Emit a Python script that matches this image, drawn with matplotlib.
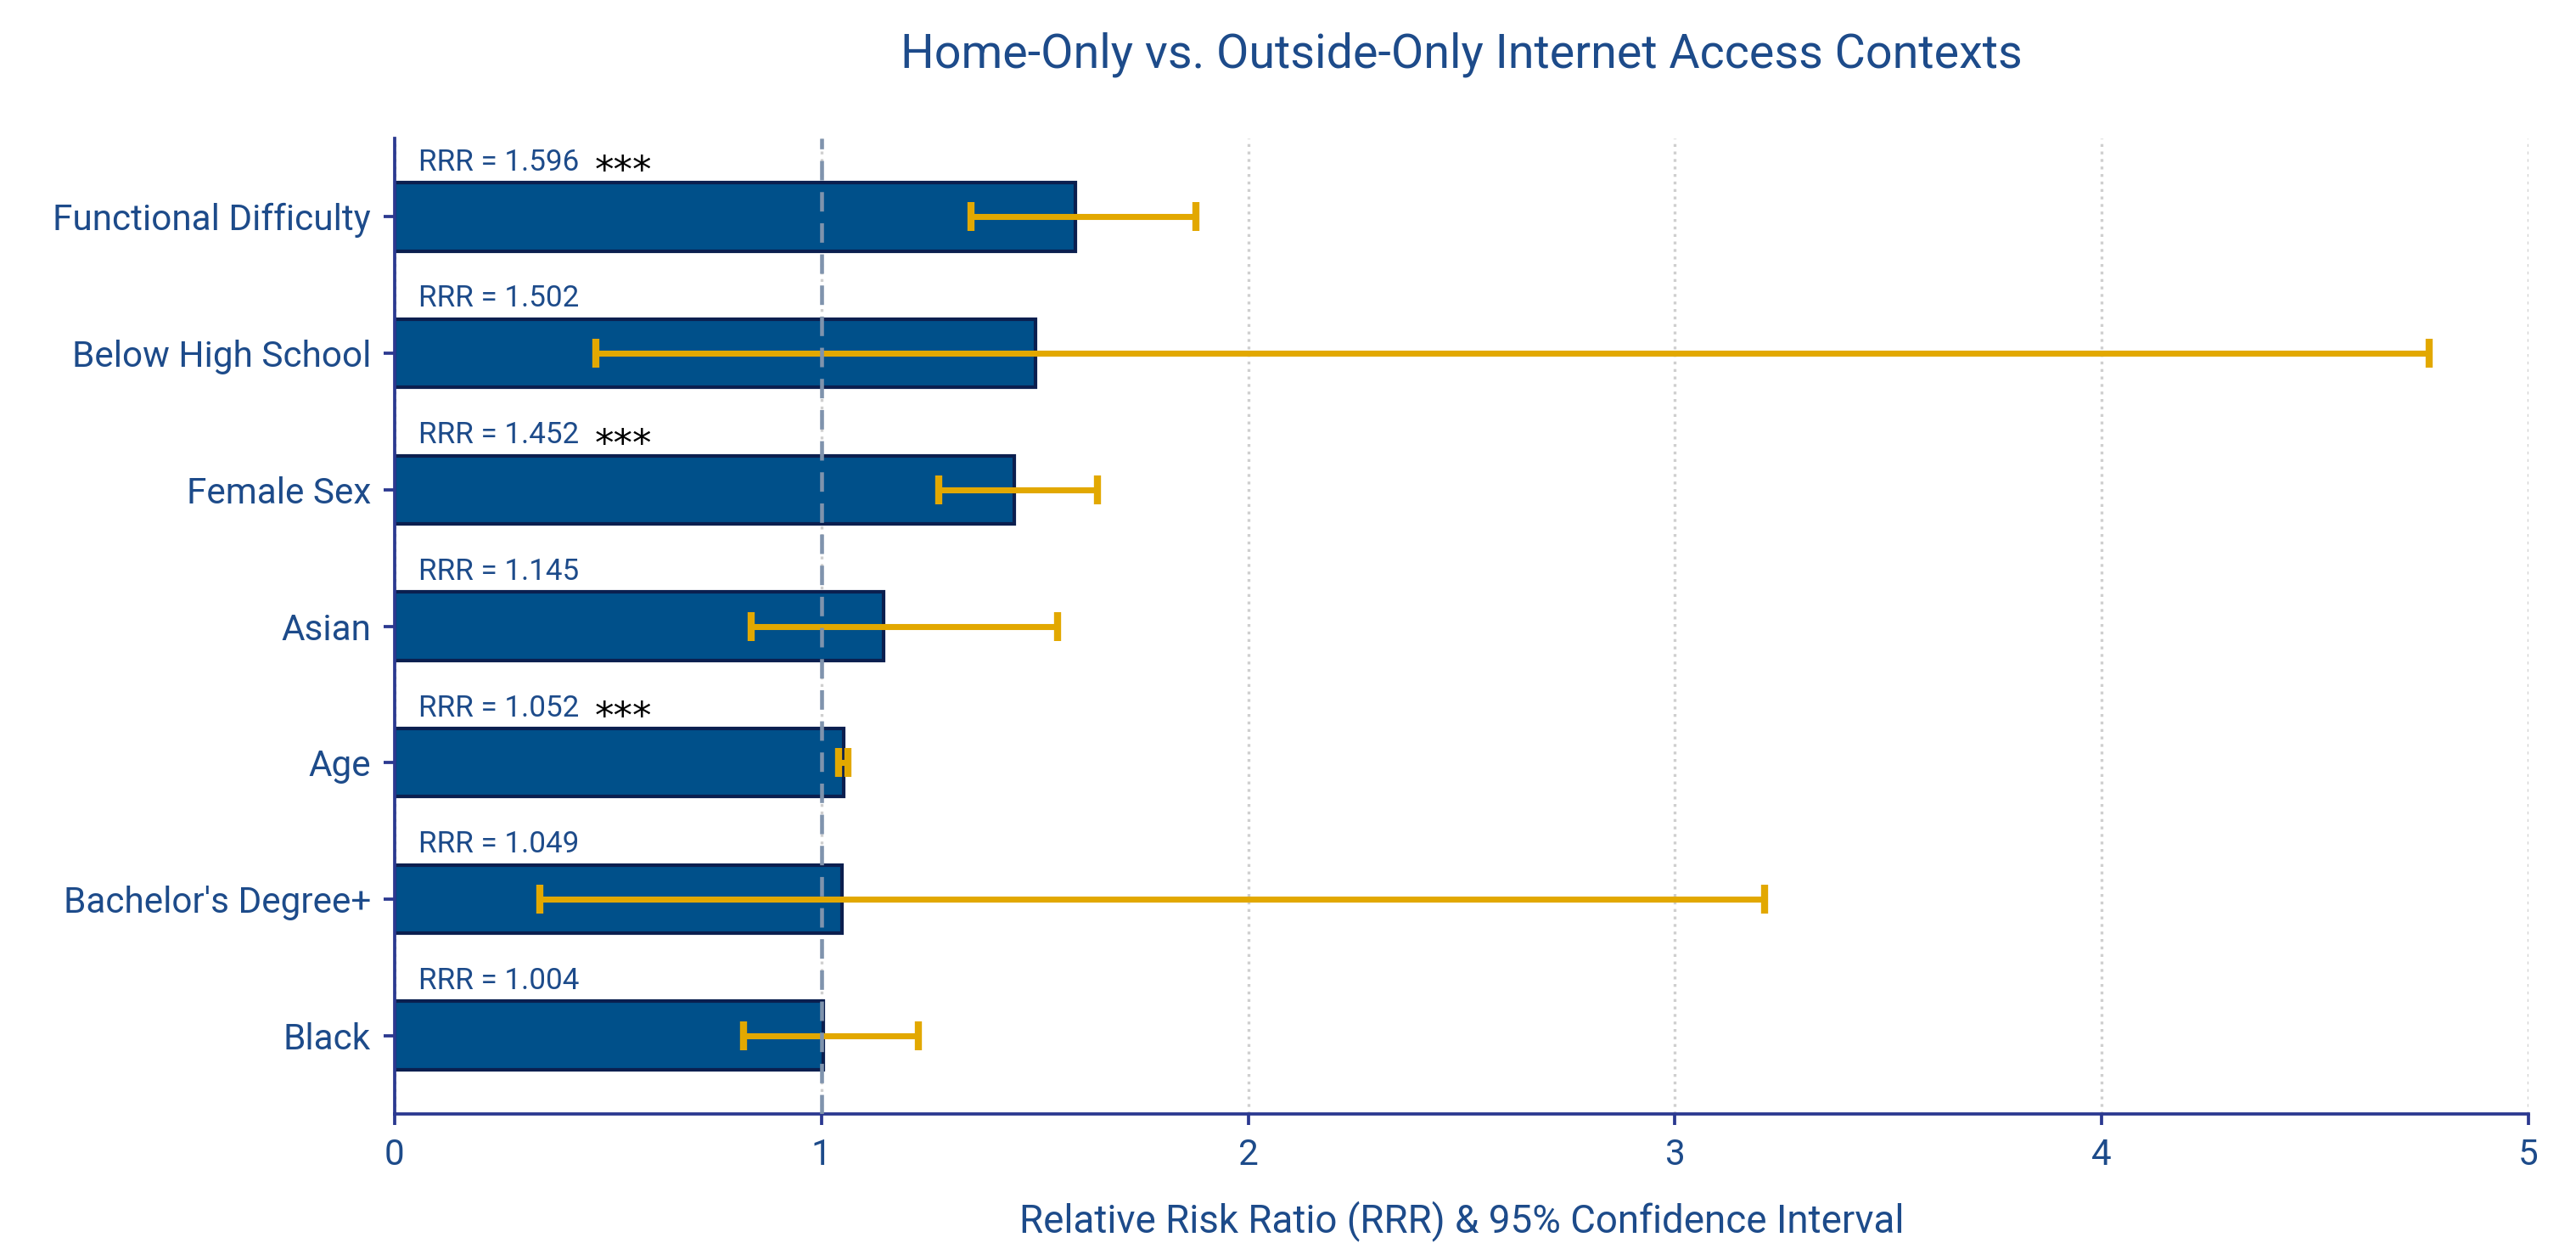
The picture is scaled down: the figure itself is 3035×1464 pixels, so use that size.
import matplotlib
matplotlib.use("Agg")
import matplotlib.pyplot as plt

# ---- data (top to bottom as displayed) ----
categories = ["Functional Difficulty", "Below High School", "Female Sex", "Asian",
              "Age", "Bachelor's Degree+", "Black"]
rrr = [1.596, 1.502, 1.452, 1.145, 1.052, 1.049, 1.004]
ci_low = [1.351, 0.471, 1.274, 0.836, 1.041, 0.340, 0.818]
ci_high = [1.878, 4.767, 1.647, 1.553, 1.062, 3.211, 1.227]
sig = ["***", "", "***", "", "***", "", ""]
x_ticks = [0, 1, 2, 3, 4, 5]

title = "Home-Only vs. Outside-Only Internet Access Contexts"
xlabel = "Relative Risk Ratio (RRR) & 95% Confidence Interval"

FONT = ["Roboto", "DejaVu Sans"]
TXT = "#1d4b8a"
SPINE = "#2b3990"
BAR = "#00508a"
BAR_EDGE = "#0b1f4f"
ERR = "#e2a800"

plt.rcParams["font.family"] = FONT
DPI = 300
fig = plt.figure(figsize=(3035 / DPI, 1464 / DPI), dpi=DPI)
ax = fig.add_axes([465 / 3035, 1 - 1312 / 1464, (2979 - 465) / 3035, (1312 - 163) / 1464])

n = len(categories)
ypos = [n - 1 - i for i in range(n)]
err_lo = [r - l for r, l in zip(rrr, ci_low)]
err_hi = [h - r for r, h in zip(rrr, ci_high)]

ax.barh(ypos, rrr, height=0.5, color=BAR, edgecolor=BAR_EDGE, linewidth=1.0, zorder=2)
ax.errorbar(rrr, ypos, xerr=[err_lo, err_hi], fmt="none", ecolor=ERR,
            elinewidth=1.7, capsize=4.0, capthick=2.0, zorder=3)
ax.axvline(1, color="#7f93ad", linestyle=(0, (5, 3)), linewidth=1.1, zorder=4)

ann = []
for y, r, s in zip(ypos, rrr, sig):
    t = ax.text(0.055, y + 0.34, f"RRR = {r:.3f}", color=TXT, fontsize=8.7,
                ha="left", va="baseline", zorder=5)
    ann.append(t)
    if s:
        ax.text(0.468, y + 0.25, s, color="black", fontsize=10.8,
                family="DejaVu Sans", ha="left", va="baseline", zorder=5)

ax.set_xlim(0, 5)
ax.set_xticks(x_ticks)
ax.set_xticklabels([str(v) for v in x_ticks])
ax.set_yticks(ypos)
ax.set_yticklabels(categories)
ax.margins(y=0.05)

ax.xaxis.grid(True, linestyle=":", color="#cfcfcf", linewidth=0.8)
ax.set_axisbelow(True)

for side in ["top", "right"]:
    ax.spines[side].set_visible(False)
for side in ["left", "bottom"]:
    ax.spines[side].set_color(SPINE)
    ax.spines[side].set_linewidth(0.9)

ax.tick_params(axis="both", colors=SPINE, labelcolor=TXT, labelsize=10,
               length=3.2, width=0.9)

ttl = ax.set_title(title, color=TXT, fontsize=13, pad=20)
xl = ax.set_xlabel(xlabel, color=TXT, fontsize=10.5, labelpad=8)

# fit font sizes to measured widths in the reference (pixels)
def fit(t, target):
    fig.canvas.draw()
    w = t.get_window_extent().width
    t.set_fontsize(t.get_fontsize() * target / w)

fit(ttl, 1319)
fit(xl, 1043)
ylabs = ax.get_yticklabels()
fig.canvas.draw()
w0 = ylabs[0].get_window_extent().width
fs = 10 * 374 / w0
ax.tick_params(axis="both", labelsize=fs)
fit(ann[0], 189)
for t in ann[1:]:
    t.set_fontsize(ann[0].get_fontsize())

fig.savefig("out.png", dpi=DPI, facecolor="white")
